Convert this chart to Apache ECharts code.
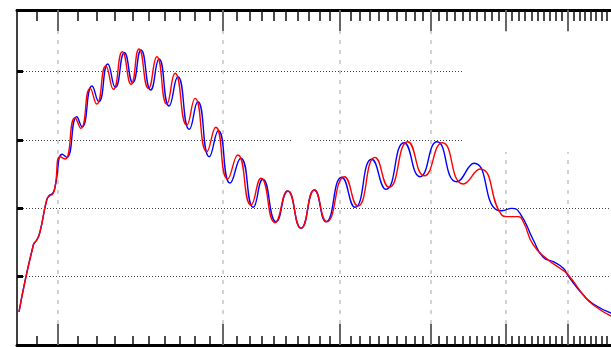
<!DOCTYPE html>
<html>
<head>
<meta charset="utf-8">
<script src="https://cdn.jsdelivr.net/npm/echarts@6/dist/echarts.min.js"></script>
<style>
  html, body { margin: 0; padding: 0; background: #fff; }
  #chart { width: 611px; height: 347px; }
</style>
</head>
<body>
<div id="chart"></div>
<script>
// Wavelength-like axis, logarithmic
const xRange = [1.808, 7.78];
const yRange = [0, 4.9];
const xMajorTicks = [2, 3, 4, 5, 6, 7];
const yTicks = [1, 2, 3, 4];

// Blue curve
const blueX = [1.817, 1.882, 1.898, 1.913, 1.945, 1.958, 1.974, 1.985, 2.021, 2.043,
  2.094, 2.121, 2.174, 2.210, 2.260, 2.302, 2.354, 2.403, 2.452, 2.511,
  2.563, 2.627, 2.684, 2.761, 2.819, 2.900, 2.965, 3.052, 3.133, 3.231,
  3.307, 3.417, 3.516, 3.633, 3.754, 3.863, 4.015, 4.148, 4.322, 4.477,
  4.679, 4.866, 5.074, 5.326, 5.557, 5.875, 5.948, 6.096, 6.221, 6.428,
  6.588, 6.752, 6.920, 7.005, 7.268, 7.449, 7.780];
const blueY = [0.483, 1.463, 1.536, 1.653, 2.121, 2.190, 2.220, 2.311, 2.789, 2.745,
  3.339, 3.193, 3.788, 3.559, 4.110, 3.769, 4.275, 3.836, 4.315, 3.730,
  4.183, 3.496, 3.924, 3.155, 3.559, 2.754, 3.134, 2.369, 2.731, 2.014,
  2.424, 1.803, 2.252, 1.707, 2.267, 1.803, 2.453, 2.014, 2.716, 2.277,
  2.959, 2.462, 2.973, 2.388, 2.658, 1.975, 1.964, 1.999, 1.926, 1.536,
  1.283, 1.218, 1.122, 1.009, 0.731, 0.600, 0.468];

// Red curve
const redX = [1.817, 1.882, 1.898, 1.913, 1.945, 1.958, 1.974, 1.985, 2.010, 2.035,
  2.085, 2.115, 2.164, 2.199, 2.249, 2.291, 2.342, 2.393, 2.440, 2.497,
  2.549, 2.612, 2.666, 2.744, 2.800, 2.882, 2.946, 3.033, 3.110, 3.213,
  3.293, 3.408, 3.516, 3.633, 3.754, 3.870, 4.041, 4.176, 4.357, 4.510,
  4.722, 4.918, 5.140, 5.413, 5.639, 5.948, 6.021, 6.196, 6.272, 6.428,
  6.669, 6.864, 7.005, 7.268, 7.449, 7.780];
const redY = [0.483, 1.463, 1.536, 1.653, 2.121, 2.179, 2.209, 2.311, 2.754, 2.720,
  3.325, 3.169, 3.754, 3.525, 4.081, 3.740, 4.290, 3.813, 4.329, 3.754,
  4.217, 3.525, 3.974, 3.218, 3.608, 2.827, 3.184, 2.428, 2.779, 2.048,
  2.438, 1.789, 2.252, 1.707, 2.267, 1.803, 2.462, 2.033, 2.745, 2.307,
  2.973, 2.476, 2.959, 2.355, 2.574, 1.901, 1.877, 1.877, 1.803, 1.463,
  1.243, 1.122, 1.024, 0.731, 0.585, 0.424];

// Minor ticks every 0.1 between the majors
const xMinorTicks = [];
for (let i = 19; i <= 77; i++) {
  if (i % 10 !== 0) xMinorTicks.push(i / 10);
}

const pairs = (xs, ys) => xs.map((x, i) => [x, ys[i]]);

function xAxisDef(position, ticks, opts) {
  return Object.assign({
    type: 'log',
    logBase: 10,
    min: xRange[0],
    max: xRange[1],
    position: position,
    axisLabel: { show: false },
    splitLine: { show: false },
    minorTick: { show: false },
    axisLine: { show: false },
    axisTick: { show: true, inside: true, customValues: ticks }
  }, opts);
}

const chart = echarts.init(document.getElementById('chart'), null, { renderer: 'canvas' });

chart.setOption({
  animation: false,
  backgroundColor: '#fff',
  grid: { left: 17, right: 0, top: 10, bottom: 2, containLabel: false },
  xAxis: [
    xAxisDef('bottom', xMinorTicks, {
      axisLine: { show: true, onZero: false, lineStyle: { color: '#000', width: 3 } },
      axisTick: { show: true, inside: true, length: 9, customValues: xMinorTicks,
        lineStyle: { color: '#111', width: 1.5 } }
    }),
    xAxisDef('bottom', xMajorTicks, {
      axisTick: { show: true, inside: true, length: 21, customValues: xMajorTicks,
        lineStyle: { color: '#666', width: 2 } },
      splitLine: { show: true, lineStyle: { color: '#c4c4c4', width: 1.5, type: [4, 6] } }
    }),
    xAxisDef('top', xMinorTicks, {
      axisLine: { show: true, onZero: false, lineStyle: { color: '#000', width: 3 } },
      axisTick: { show: true, inside: true, length: 11, customValues: xMinorTicks,
        lineStyle: { color: '#111', width: 1.5 } }
    }),
    xAxisDef('top', xMajorTicks, {
      axisTick: { show: true, inside: true, length: 21, customValues: xMajorTicks,
        lineStyle: { color: '#666', width: 2 } }
    })
  ],
  yAxis: {
    type: 'value',
    min: yRange[0],
    max: yRange[1],
    axisLabel: { show: false },
    axisLine: { show: true, onZero: false, lineStyle: { color: '#000', width: 1.5 } },
    axisTick: { show: true, inside: true, length: 6, customValues: yTicks,
      lineStyle: { color: '#000', width: 3 } },
    splitLine: { show: true, lineStyle: { color: '#444', width: 1, type: [1, 2] } }
  },
  graphic: [
    { type: 'rect', z: 1, shape: { x: 462, y: 32, width: 160, height: 120 },
      style: { fill: '#fff' }, silent: true },
    { type: 'rect', z: 1, shape: { x: 293, y: 137, width: 16, height: 8 },
      style: { fill: '#fff' }, silent: true }
  ],
  series: [
    {
      type: 'line', xAxisIndex: 0, data: pairs(blueX, blueY),
      smooth: 0.55, showSymbol: false, z: 3,
      lineStyle: { color: '#0000ff', width: 1.4 }
    },
    {
      type: 'line', xAxisIndex: 0, data: pairs(redX, redY),
      smooth: 0.55, showSymbol: false, z: 4,
      lineStyle: { color: '#ff0000', width: 1.4 }
    }
  ]
});
</script>
</body>
</html>
